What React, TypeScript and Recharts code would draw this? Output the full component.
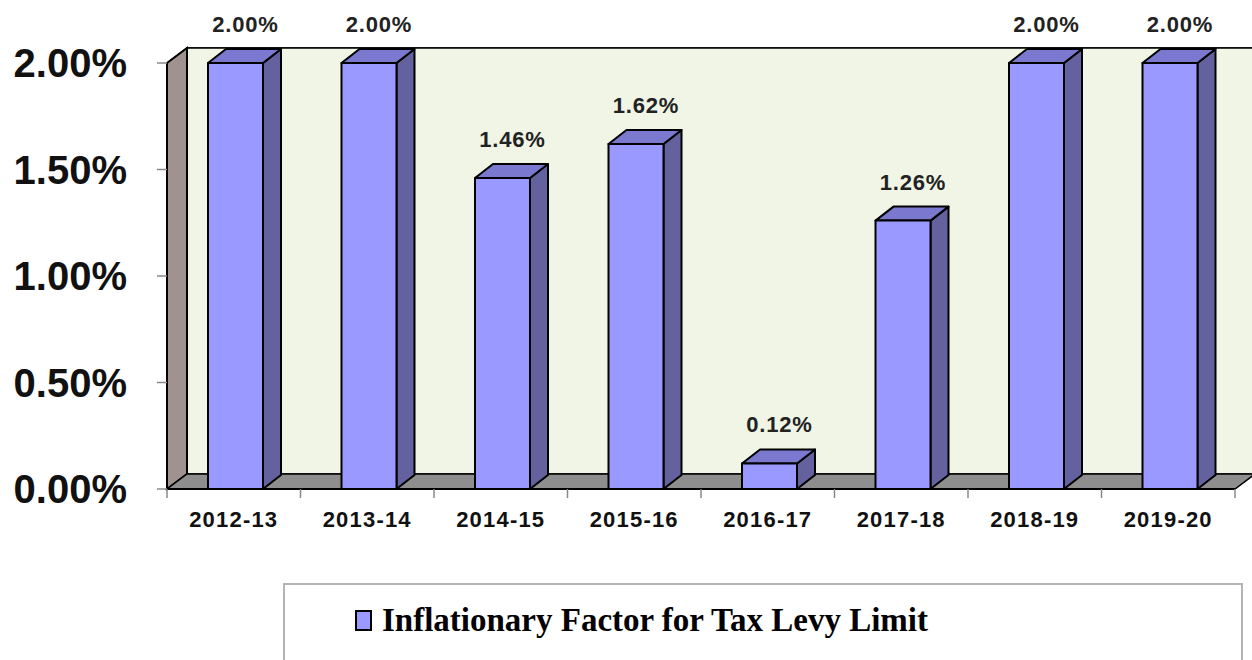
import React from "react";
import { BarChart, Bar, XAxis, YAxis, CartesianGrid, ReferenceArea, LabelList } from "recharts";

// values
const years = ["2012-13", "2013-14", "2014-15", "2015-16", "2016-17", "2017-18", "2018-19", "2019-20"];
const factors = [2.0, 2.0, 1.46, 1.62, 0.12, 1.26, 2.0, 2.0];
const yTicks = [0, 0.5, 1, 1.5, 2];
const seriesName = "Inflationary Factor for Tax Levy Limit";

const data = years.map((year, i) => ({ year, factor: factors[i] }));

// pseudo-3D depth of the walls and of the bars
const WALL_DX = 20;
const WALL_DY = 15;
const BAR_DX = 18;
const BAR_DY = 14;

const FRONT = "#9999ff";
const SIDE = "#63629f";
const TOP = "#7b79cf";

const pct = (v: number) => `${v.toFixed(2)}%`;

function Walls(props: any) {
  const { x, y, width: w, height: h } = props;
  return (
    <g>
      <rect x={x + WALL_DX} y={y - WALL_DY} width={w} height={h} fill="#f1f5e6" stroke="#000" strokeWidth={1.5} />
      <polygon
        points={`${x},${y} ${x + WALL_DX},${y - WALL_DY} ${x + WALL_DX},${y + h - WALL_DY} ${x},${y + h}`}
        fill="#a0938f"
        stroke="#000"
        strokeWidth={2}
      />
      <polygon
        points={`${x},${y + h} ${x + WALL_DX},${y + h - WALL_DY} ${x + w + WALL_DX},${y + h - WALL_DY} ${x + w},${y + h}`}
        fill="#8e8e8e"
        stroke="#000"
        strokeWidth={1.5}
      />
    </g>
  );
}

function GridLine(props: any) {
  const { x1, y1, x2 } = props;
  return (
    <polyline
      key={props.key}
      points={`${x1},${y1} ${x1 + WALL_DX},${y1 - WALL_DY} ${x2 + WALL_DX},${y1 - WALL_DY}`}
      fill="none"
      stroke="#000"
      strokeWidth={1.5}
    />
  );
}

function Bar3D(props: any) {
  const { y, width: w, height: h } = props;
  const x = props.x + 2;
  if (!w || h == null) return null;
  return (
    <g stroke="#000" strokeWidth={2} strokeLinejoin="round">
      <polygon
        points={`${x + w},${y} ${x + w + BAR_DX},${y - BAR_DY} ${x + w + BAR_DX},${y + h - BAR_DY} ${x + w},${y + h}`}
        fill={SIDE}
      />
      <polygon
        points={`${x},${y} ${x + BAR_DX},${y - BAR_DY} ${x + w + BAR_DX},${y - BAR_DY} ${x + w},${y}`}
        fill={TOP}
      />
      <rect x={x} y={y} width={w} height={h} fill={FRONT} />
    </g>
  );
}

function ValueLabel(props: any) {
  const { x, y, width, value } = props;
  return (
    <text
      x={x + width / 2 + 12}
      y={y - 31}
      textAnchor="middle"
      fontFamily="'Liberation Sans', Arial, sans-serif"
      fontWeight="bold"
      fontSize={22}
      letterSpacing={0.8}
      fill="#222"
    >
      {pct(value)}
    </text>
  );
}

function YearTick(props: any) {
  const { x, y, payload, index } = props;
  const half = payload?.offset || 66.75;
  return (
    <g>
      <line x1={x - half} y1={y} x2={x - half} y2={y + 9} stroke="#888" strokeWidth={1.5} />
      {index === years.length - 1 && (
        <line x1={x + half} y1={y} x2={x + half} y2={y + 9} stroke="#888" strokeWidth={1.5} />
      )}
      <text
        x={x}
        y={y + 38}
        textAnchor="middle"
        fontFamily="'Liberation Sans', Arial, sans-serif"
        fontWeight="bold"
        fontSize={22}
        letterSpacing={1.2}
        fill="#111"
      >
        {payload.value}
      </text>
    </g>
  );
}

export default function App() {
  return (
    <div
      style={{
        position: "absolute",
        left: 0,
        top: 0,
        width: 1252,
        height: 660,
        overflow: "hidden",
        background: "#fff",
      }}
    >
      <BarChart
        width={1252}
        height={660}
        data={data}
        margin={{ top: 63, right: 17, left: 0, bottom: 111 }}
        barSize={55}
      >
        <ReferenceArea y1={0} y2={2} ifOverflow="visible" shape={<Walls />} />
        <CartesianGrid vertical={false} horizontal={(p: any) => <GridLine {...p} />} />
        <XAxis
          dataKey="year"
          height={60}
          tickSize={0}
          tickMargin={0}
          tickLine={false}
          axisLine={{ stroke: "#000", strokeWidth: 2 }}
          tick={<YearTick />}
          interval={0}
        />
        <YAxis
          width={167}
          domain={[0, 2]}
          ticks={yTicks}
          tickFormatter={pct}
          axisLine={false}
          tickSize={10}
          tickMargin={30}
          tickLine={{ stroke: "#888", strokeWidth: 1.5 }}
          tick={{
            fontSize: 40,
            fontWeight: "bold",
            fontFamily: "'Liberation Sans', Arial, sans-serif",
            fill: "#111",
          }}
        />
        <Bar dataKey="factor" name={seriesName} shape={<Bar3D />} isAnimationActive={false}>
          <LabelList dataKey="factor" content={<ValueLabel />} />
        </Bar>
      </BarChart>
      <div
        style={{
          position: "absolute",
          left: 283,
          top: 583,
          width: 960,
          height: 100,
          border: "2px solid #b4b4b4",
          boxSizing: "border-box",
          background: "#fff",
        }}
      >
        <div
          style={{
            position: "absolute",
            left: 70,
            top: 17,
            display: "flex",
            alignItems: "center",
            fontFamily: "'Liberation Serif', 'Times New Roman', serif",
            fontWeight: "bold",
            fontSize: 33,
            color: "#000",
            whiteSpace: "nowrap",
          }}
        >
          <span
            style={{
              display: "inline-block",
              width: 17,
              height: 21,
              background: FRONT,
              border: "2px solid #000",
              boxSizing: "border-box",
              marginRight: 10,
            }}
          />
          {seriesName}
        </div>
      </div>
    </div>
  );
}
